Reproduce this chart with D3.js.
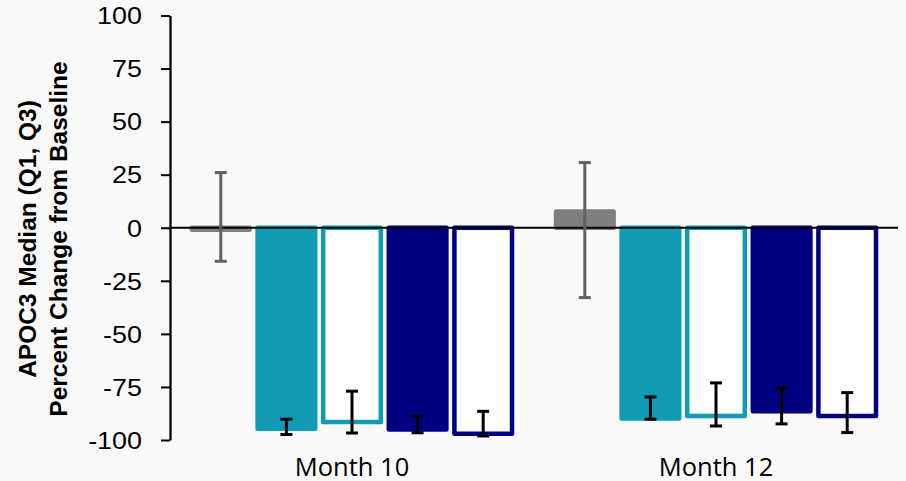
<!DOCTYPE html>
<html lang="en">
<head>
  <meta charset="UTF-8">
  <title>APOC3 percent change</title>
  <script src="https://d3js.org/d3.v7.min.js"></script>
  <style>
    body {
      margin: 0;
      background: #f9f9f9;
    }
    svg {
      display: block;
    }
    .tick text {
      font-family: "Liberation Sans", Arial, sans-serif;
      font-size: 23px;
      fill: #000;
    }
    .cat-label {
      font-family: "Open Sans", sans-serif;
      font-size: 25.5px;
      fill: #000;
    }
    .y-title {
      font-family: "Liberation Sans", Arial, sans-serif;
      font-size: 24.5px;
      font-weight: bold;
      fill: #000;
    }
  </style>
</head>
<body>
  <svg id="chart"></svg>

  <script>
    // categories and series (no legend in the source, so series names are generic)
    const categories = ["Month 10", "Month 12"];
    const seriesNames = ["Placebo", "Group A", "Group B", "Group C", "Group D"];

    // median percent change, per category, per series
    const medians = [
      [-1, -94.7, -91.5, -95.0, -97.1],
      [7.7, -89.9, -88.7, -86.4, -88.7]
    ];
    // Q1 / Q3
    const q3 = [
      [26.0, -90.2, -77.0, -88.8, -86.5],
      [30.7, -79.7, -73.1, -75.5, -77.7]
    ];
    const q1 = [
      [-15.8, -97.4, -96.7, -96.6, -98.1],
      [-32.9, -90.2, -93.4, -92.4, -96.5]
    ];
    const yTicks = [-100, -75, -50, -25, 0, 25, 50, 75, 100];

    const seriesStyle = [
      { fill: "#7f7f7f", stroke: "#7f7f7f", err: "#616161" },
      { fill: "#119bb4", stroke: "#119bb4", err: "#000" },
      { fill: "#ffffff", stroke: "#119bb4", err: "#000" },
      { fill: "#000080", stroke: "#000080", err: "#000" },
      { fill: "#ffffff", stroke: "#000080", err: "#000" }
    ];

    const width = 906, height = 481;
    const plotLeft = 170, plotRight = 898, plotTop = 15.5, plotBottom = 440;

    const svg = d3.select("#chart")
      .attr("width", width)
      .attr("height", height);

    const x0 = d3.scaleBand()
      .domain(categories)
      .range([plotLeft, plotRight]);

    const x1 = d3.scaleBand()
      .domain(seriesNames)
      .range([22, 342])
      .paddingInner(0.122)
      .paddingOuter(0);

    const y = d3.scaleLinear()
      .domain([-100, 100])
      .range([plotBottom, plotTop]);

    // flatten rows
    const rows = [];
    categories.forEach((c, ci) => {
      seriesNames.forEach((s, si) => {
        rows.push({ cat: c, ser: s, si: si, v: medians[ci][si], lo: q1[ci][si], hi: q3[ci][si] });
      });
    });

    // bars
    svg.append("g")
      .selectAll("rect")
      .data(rows)
      .join("rect")
      .attr("x", d => x0(d.cat) + x1(d.ser))
      .attr("width", x1.bandwidth())
      .attr("y", d => Math.min(y(0), y(d.v)))
      .attr("height", d => Math.abs(y(d.v) - y(0)))
      .attr("fill", d => seriesStyle[d.si].fill)
      .attr("stroke", d => seriesStyle[d.si].stroke)
      .attr("stroke-width", 4.5)
      .attr("stroke-linejoin", "round");

    // zero line
    svg.append("line")
      .attr("x1", plotLeft)
      .attr("x2", plotRight)
      .attr("y1", y(0))
      .attr("y2", y(0))
      .attr("stroke", "#000")
      .attr("stroke-width", 2);

    // error bars
    const capW = 12;
    const err = svg.append("g")
      .selectAll("g")
      .data(rows)
      .join("g")
      .attr("stroke", d => seriesStyle[d.si].err)
      .attr("stroke-width", 3);

    const cx = d => x0(d.cat) + x1(d.ser) + x1.bandwidth() / 2;

    err.append("line")
      .attr("x1", cx).attr("x2", cx)
      .attr("y1", d => y(d.hi)).attr("y2", d => y(d.lo));
    err.append("line")
      .attr("x1", d => cx(d) - capW / 2).attr("x2", d => cx(d) + capW / 2)
      .attr("y1", d => y(d.hi)).attr("y2", d => y(d.hi));
    err.append("line")
      .attr("x1", d => cx(d) - capW / 2).attr("x2", d => cx(d) + capW / 2)
      .attr("y1", d => y(d.lo)).attr("y2", d => y(d.lo));

    // y axis
    const yAxis = svg.append("g")
      .attr("transform", `translate(${plotLeft},0)`)
      .call(d3.axisLeft(y)
        .tickValues(yTicks)
        .tickFormat(d => String(d))   // plain hyphen, like the source
        .tickSize(9)
        .tickSizeOuter(0)
        .tickPadding(19));

    yAxis.select(".domain")
      .attr("stroke", "#000")
      .attr("stroke-width", 2.3);
    yAxis.selectAll(".tick line")
      .attr("stroke", "#000")
      .attr("stroke-width", 2);
    yAxis.attr("font-family", null).attr("font-size", null);
    yAxis.selectAll(".tick text")
      .attr("dy", "0.36em")
      .each(function() {
        // the source digits are a bit wider than Arial
        const w = this.getComputedTextLength();
        d3.select(this)
          .attr("textLength", w * 1.17)
          .attr("lengthAdjust", "spacingAndGlyphs");
      });

    // category labels
    svg.append("g")
      .selectAll("text")
      .data(categories)
      .join("text")
      .attr("class", "cat-label")
      .attr("x", d => x0(d) + x0.bandwidth() / 2)
      .attr("y", 476)
      .attr("text-anchor", "middle")
      .text(d => d);

    // y title, two lines
    const titleLines = ["APOC3 Median (Q1, Q3)", "Percent Change from Baseline"];
    svg.append("g")
      .selectAll("text")
      .data(titleLines)
      .join("text")
      .attr("class", "y-title")
      .attr("text-anchor", "middle")
      .attr("transform", (d, i) => `translate(${36 + i * 31},239) rotate(-90)`)
      .text(d => d);
  </script>
</body>
</html>
